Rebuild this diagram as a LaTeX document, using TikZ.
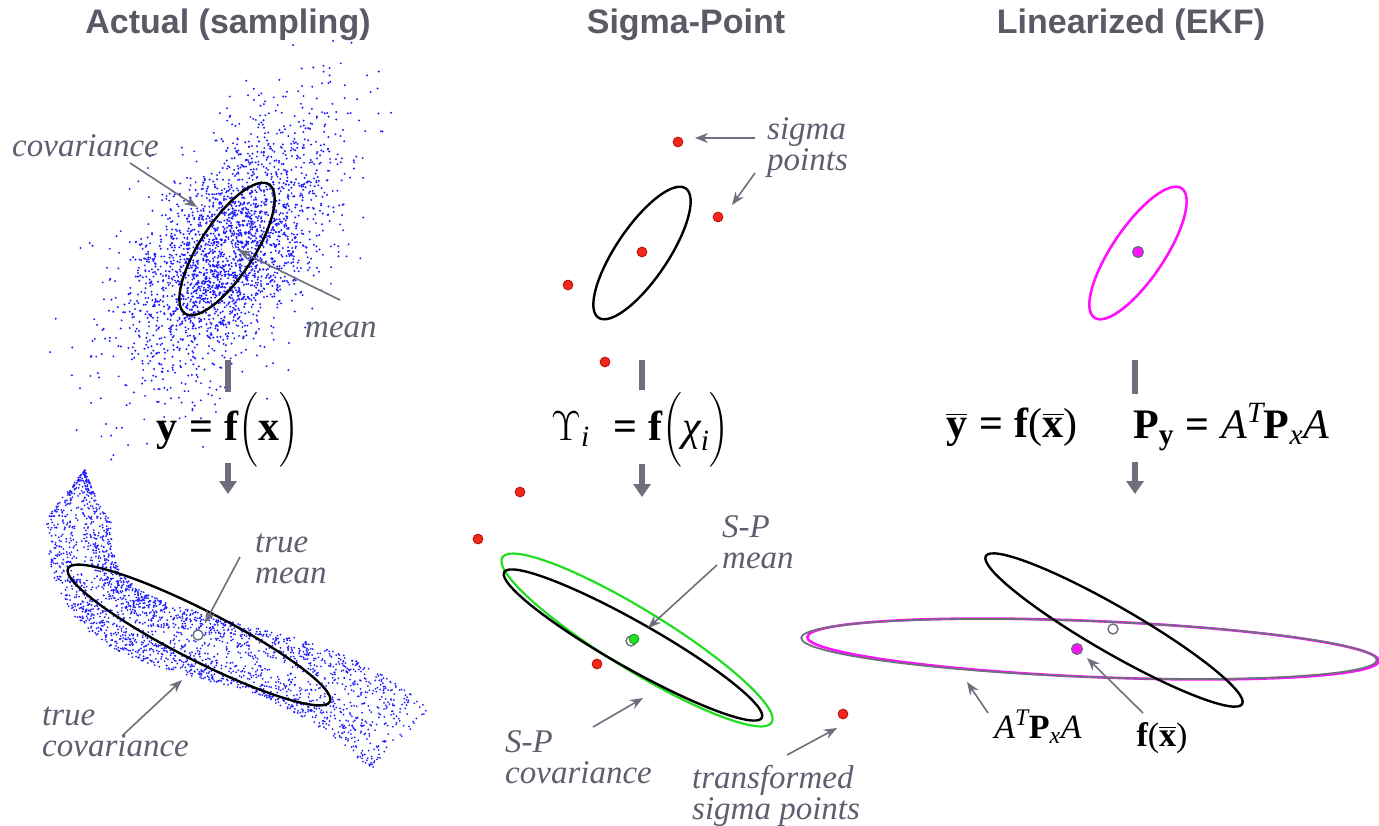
\RequirePackage{fix-cm}
\documentclass[tikz,border=0pt]{standalone}
\usepackage{amsmath}
\usepackage{fontspec}
\setmainfont{Liberation Serif}
\newfontfamily\titlefont{Liberation Sans}
\usetikzlibrary{arrows.meta,calc}
\newcommand{\txi}[1]{\text{\itshape #1}}
\newcommand{\beqs}{\mathrel{\text{\bfseries =}}}
\definecolor{titlegrey}{HTML}{5A5A66}
\definecolor{labgrey}{HTML}{5E5F6E}
\definecolor{arrgrey}{HTML}{6E6F7C}
\definecolor{cloudblue}{HTML}{1E1EFF}
\definecolor{sred}{HTML}{F0281A}
\definecolor{sgreen}{HTML}{22DD22}
\definecolor{smag}{HTML}{FF10FF}
\tikzset{
  ttl/.style={font=\titlefont\bfseries\fontsize{34}{36}\selectfont, text=titlegrey, inner sep=0pt},
  lab/.style={font=\itshape\fontsize{33}{31}\selectfont, text=labgrey, align=left, inner sep=0pt, anchor=west},
  eqn/.style={font=\fontsize{42}{46}\selectfont, inner sep=0pt},
  eqsmall/.style={font=\fontsize{34}{38}\selectfont, inner sep=0pt},
  lblarrow/.style={draw=arrgrey, line width=1.6pt, -{Stealth[length=13pt,width=10pt]}},
  flowbar/.style={draw=arrgrey, line width=6pt},
  flowarrow/.style={draw=arrgrey, line width=6pt, -{Triangle[length=13pt,width=17pt]}},
  ell/.style={draw=black, line width=2.4pt},
  sdot/.style={circle, fill=sred, draw=red!65!black, line width=0.6pt, minimum size=10pt, inner sep=0pt},
  wdot/.style={circle, fill=white, draw=arrgrey, line width=1.4pt, minimum size=10pt, inner sep=0pt},
  mdot/.style={circle, fill=smag, draw=arrgrey, line width=1.2pt, minimum size=11pt, inner sep=0pt},
  gdot/.style={circle, fill=sgreen, draw=sgreen!60!black, line width=0.6pt, minimum size=10pt, inner sep=0pt},
}
\begin{document}
\begin{tikzpicture}[x=1pt,y=-1pt]
\useasboundingbox (0,0) rectangle (1379,826);
% titles
\node[ttl] (t1) at (228,25) {Actual (sampling)};
\node[ttl] (t2) at (686,25) {Sigma-Point};
\node[ttl] (t3) at (1131,25) {Linearized (EKF)};

% ---------- column 1: sample cloud ----------
\pgfmathsetseed{271}
\foreach \i in {1,...,2600}{
  \pgfmathsetmacro{\ua}{0.002+0.998*rnd}
  \pgfmathsetmacro{\ub}{360*rnd}
  \pgfmathsetmacro{\qr}{min(sqrt(-2*ln(\ua)),3.4)}
  \pgfmathsetmacro{\za}{\qr*cos(\ub)*74}
  \pgfmathsetmacro{\zb}{\qr*sin(\ub)*38}
  \pgfmathsetmacro{\px}{228+0.5736*\za+0.8192*\zb}
  \pgfmathsetmacro{\py}{250-0.8192*\za+0.5736*\zb}
  \fill[cloudblue] (\px,\py) circle[radius=1.1];
}
% transformed cloud (band)
\foreach \i in {1,...,2400}{
  \pgfmathsetmacro{\qs}{rnd}
  \pgfmathsetmacro{\qa}{1-\qs}
  \pgfmathsetmacro{\bx}{\qa*\qa*\qa*85+3*\qa*\qa*\qs*40+3*\qa*\qs*\qs*250+\qs*\qs*\qs*400}
  \pgfmathsetmacro{\by}{\qa*\qa*\qa*470+3*\qa*\qa*\qs*700+3*\qa*\qs*\qs*595+\qs*\qs*\qs*740}
  \pgfmathsetmacro{\qdx}{-1.35*\qa*\qa+12.6*\qa*\qs+4.5*\qs*\qs}
  \pgfmathsetmacro{\qdy}{6.9*\qa*\qa-6.3*\qa*\qs+4.35*\qs*\qs}
  \pgfmathsetmacro{\qdl}{sqrt(\qdx*\qdx+\qdy*\qdy)+0.0001}
  \pgfmathsetmacro{\qw}{(\qs<0.08 ? \qs/0.08*32 : 32)+max(0,\qs-0.7)*36}
  \pgfmathsetmacro{\qt}{rand}
  \pgfmathsetmacro{\qo}{\qw*(\qt<0 ? -1 : 1)*(abs(\qt)+0.001)^0.7}
  \pgfmathsetmacro{\px}{\bx-\qo*\qdy/\qdl}
  \pgfmathsetmacro{\py}{\by+\qo*\qdx/\qdl}
  \fill[cloudblue] (\px,\py) circle[radius=1.0];
}
\draw[ell] (227,249) circle[x radius=77, y radius=27, rotate=57];
\node[wdot, draw=white] (m1) at (227,248) {};
\draw[ell] (199,635) circle[x radius=147, y radius=25, rotate=-27];
\node[wdot] (tm1) at (198,635) {};

% labels column 1
\node[lab] (lcov) at (12,146) {covariance};
\coordinate (lcovs) at (130,163); \coordinate (lcove) at (197,207);
\draw[lblarrow] (lcovs) -- (lcove);
\node[lab] (lmean) at (305,330) {mean};
\coordinate (lmeans) at (340,300); \coordinate (lmeane) at (238,250);
\draw[lblarrow] (lmeans) -- (lmeane);
\node[lab] (ltm) at (255,559) {true\\mean};
\coordinate (ltms) at (240,557); \coordinate (ltme) at (205,623);
\draw[lblarrow] (ltms) -- (ltme);
\node[lab] (ltc) at (42,732) {true\\covariance};
\coordinate (ltcs) at (123,735); \coordinate (ltce) at (182,680);
\draw[lblarrow] (ltcs) -- (ltce);

% flow column 1
\coordinate (b1t) at (228,360); \coordinate (b1b) at (228,392);
\draw[flowbar] (b1t) -- (b1b);
\node[eqn] (eq1) at (228,430) {$\mathbf{y}\beqs\mathbf{f}\Bigl(\mathbf{x}\Bigr)$};
\coordinate (a1t) at (228,463); \coordinate (a1b) at (228,494);
\draw[flowarrow] (a1t) -- (a1b);

% ---------- column 2 ----------
\draw[ell] (642,253) circle[x radius=78, y radius=26, rotate=56];
\node[sdot] (s0) at (642,252) {};
\node[sdot] (s1) at (678,142) {};
\node[sdot] (s2) at (718,217) {};
\node[sdot] (s3) at (568,285) {};
\node[sdot] (s4) at (605,362) {};
\node[lab] (lsig) at (767,148) {sigma\\points};
\coordinate (lsig1s) at (755,138); \coordinate (lsig1e) at (695,138);
\draw[lblarrow] (lsig1s) -- (lsig1e);
\coordinate (lsig2s) at (755,173); \coordinate (lsig2e) at (732,205);
\draw[lblarrow] (lsig2s) -- (lsig2e);

\coordinate (b2t) at (642,360); \coordinate (b2b) at (642,390);
\draw[flowbar] (b2t) -- (b2b);
\node[eqn] (eq2) at (640,430) {$\Upsilon_{\txi{i}}\;\beqs\mathbf{f}\Bigl(\txi{χ}_{\txi{i}}\Bigr)$};
\coordinate (a2t) at (642,464); \coordinate (a2b) at (642,497);
\draw[flowarrow] (a2t) -- (a2b);

\draw[draw=sgreen, line width=2.2pt] (637,640) circle[x radius=158, y radius=30, rotate=-31.5];
\draw[ell] (633,645) circle[x radius=148, y radius=23, rotate=-29.5];
\node[wdot] (tm2) at (631,641) {};
\node[gdot] (spm) at (634,639) {};
\node[sdot] (y1) at (520,492) {};
\node[sdot] (y2) at (478,539) {};
\node[sdot] (y3) at (597,664) {};
\node[sdot] (y4) at (843,714) {};
\node[lab] (lspm) at (722,542) {S-P\\mean};
\coordinate (lspms) at (717,565); \coordinate (lspme) at (648,628);
\draw[lblarrow] (lspms) -- (lspme);
\node[lab] (lspc) at (505,757) {S-P\\covariance};
\coordinate (lspcs) at (593,727); \coordinate (lspce) at (643,698);
\draw[lblarrow] (lspcs) -- (lspce);
\node[lab] (ltsp) at (692,796) {transformed\\sigma points};
\coordinate (ltsps) at (787,755); \coordinate (ltspe) at (837,728);
\draw[lblarrow] (ltsps) -- (ltspe);

% ---------- column 3 ----------
\draw[draw=smag, line width=2.6pt] (1138,253) circle[x radius=78, y radius=26, rotate=56];
\node[mdot] (fm) at (1138,252) {};
\coordinate (b3t) at (1135,360); \coordinate (b3b) at (1135,394);
\draw[flowbar] (b3t) -- (b3b);
\node[eqn] (eq3a) at (1012,427) {$\overline{\mathbf{y}}\beqs\mathbf{f}\text{(}\overline{\mathbf{x}}\text{)}$};
\node[eqn] (eq3b) at (1231,427) {$\mathbf{P}_{\mathbf{y}}\beqs\txi{A}^{\txi{T}}\mathbf{P}_{\txi{x}}\txi{A}$};
\coordinate (a3t) at (1135,462); \coordinate (a3b) at (1135,494);
\draw[flowarrow] (a3t) -- (a3b);

\draw[draw=smag, line width=2.6pt] (1093,649) circle[x radius=286, y radius=28, rotate=-2.4];
\draw[draw=arrgrey, line width=1.8pt] (1089,649) circle[x radius=288, y radius=28, rotate=-2.2];
\draw[ell] (1114,630) circle[x radius=148, y radius=23, rotate=-30];
\node[wdot] (tm3) at (1113,629) {};
\node[mdot] (fxb) at (1077,649) {};
\node[eqsmall] (latpa) at (1038,727) {$\txi{A}^{\txi{T}}\mathbf{P}_{\txi{x}}\txi{A}$};
\coordinate (latpas) at (988,713); \coordinate (latpae) at (967,682);
\draw[lblarrow] (latpas) -- (latpae);
\node[eqsmall] (lfx) at (1162,738) {$\mathbf{f}\text{(}\overline{\mathbf{x}}\text{)}$};
\coordinate (lfxs) at (1143,713); \coordinate (lfxe) at (1087,658);
\draw[lblarrow] (lfxs) -- (lfxe);
\end{tikzpicture}
\end{document}
